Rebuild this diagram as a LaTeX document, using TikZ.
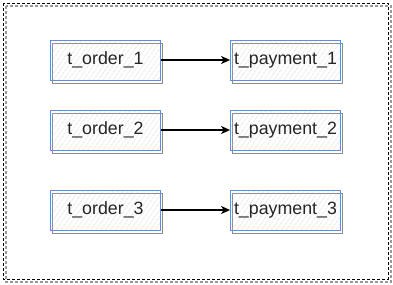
\documentclass[tikz,border=0pt]{standalone}
\usepackage{fontspec}
\setmainfont{Liberation Sans}
\usetikzlibrary{arrows.meta,patterns.meta}
\begin{document}
\begin{tikzpicture}[x=1pt,y=-1pt,
  table/.style={draw={rgb,255:red,108;green,142;blue,191}, line width=0.8pt,
    pattern={Lines[angle=55,distance=4pt,line width=0.5pt]},
    pattern color=black!22,
    minimum width=110pt, minimum height=40pt, inner sep=0pt,
    font=\fontsize{17.8}{20}\selectfont, text=black!85},
  offsetbox/.style={draw=black!45, line width=0.8pt},
  link/.style={line width=1.5pt, -{Stealth[length=9pt,width=8pt,inset=2.5pt]}},
  frame/.style={draw=black, line width=1pt, dash pattern=on 3pt off 2pt},
  frameshadow/.style={draw=black!40, line width=1.2pt, dash pattern=on 3pt off 2pt}]
  \useasboundingbox (0,0) rectangle (393,284);
  \fill[white] (0,0) rectangle (393,284);

  % dashed frame with its grey shadow
  \coordinate (fa) at (3,3);
  \coordinate (fb) at (388,279);
  \draw[frameshadow] ([shift={(3,3)}]fa) rectangle ([shift={(3,3)}]fb);
  \draw[frame] (fa) rectangle (fb);

  % offset outlines behind the tables
  \foreach \n/\x/\y in {o1/105.5/60, o2/105.5/130, o3/105.5/210,
                        p1/285.5/60, p2/285.5/130, p3/285.5/210}{
    \draw[offsetbox] (\x-53,\y-17) rectangle (\x+57,\y+23);
  }

  % tables
  \node[table] (o1) at (105.5,60)  {t\_order\_1};
  \node[table] (o2) at (105.5,130) {t\_order\_2};
  \node[table] (o3) at (105.5,210) {t\_order\_3};
  \node[table] (p1) at (285.5,60)  {t\_payment\_1};
  \node[table] (p2) at (285.5,130) {t\_payment\_2};
  \node[table] (p3) at (285.5,210) {t\_payment\_3};

  % links
  \draw[link] (o1) -- (p1);
  \draw[link] (o2) -- (p2);
  \draw[link] (o3) -- (p3);
\end{tikzpicture}
\end{document}
